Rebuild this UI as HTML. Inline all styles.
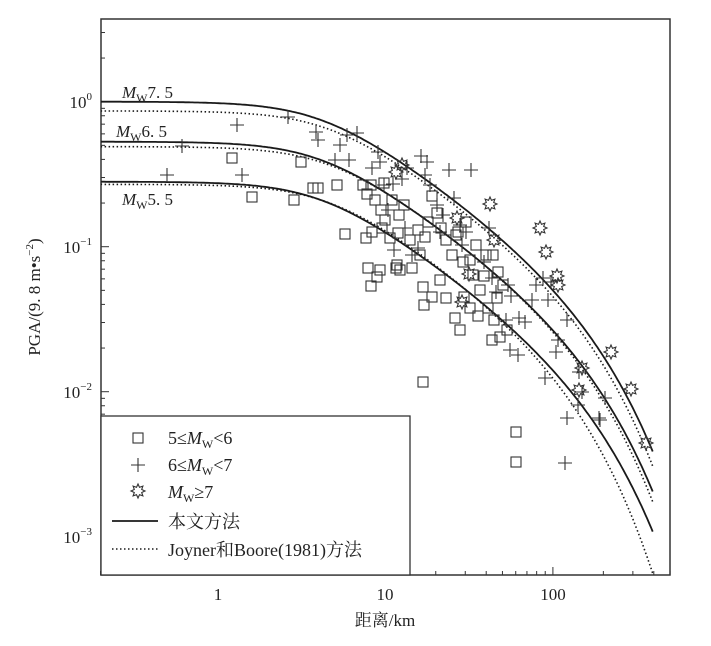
<!DOCTYPE html>
<html><head><meta charset="utf-8"><style>
html,body{margin:0;padding:0;background:#fff;}
svg{display:block;font-family:"Liberation Serif","Noto Serif CJK SC",serif;}
</style></head><body>
<svg id="s" width="711" height="646" viewBox="0 0 711 646" xmlns="http://www.w3.org/2000/svg">
<defs><clipPath id="cp"><rect x="101" y="19" width="569" height="556"/></clipPath></defs>
<rect x="101" y="19" width="569" height="556" fill="none" stroke="#333" stroke-width="1.5"/>
<g id="ticks" stroke="#333" stroke-width="1"></g>
<g id="curves" clip-path="url(#cp)" fill="none" stroke="#1a1a1a"></g>
<g id="pts" fill="none" stroke="#333" stroke-width="1.1"></g>
<g font-size="17" fill="#222">
<text x="122" y="98"><tspan font-style="italic">M</tspan><tspan font-size="12" dy="4">W</tspan><tspan dy="-4">7. 5</tspan></text>
<text x="116" y="137"><tspan font-style="italic">M</tspan><tspan font-size="12" dy="4">W</tspan><tspan dy="-4">6. 5</tspan></text>
<text x="122" y="205"><tspan font-style="italic">M</tspan><tspan font-size="12" dy="4">W</tspan><tspan dy="-4">5. 5</tspan></text>
</g>
<g font-size="17" fill="#222" text-anchor="end">
<text x="92" y="108">10<tspan font-size="11" dy="-8">0</tspan></text>
<text x="92" y="253">10<tspan font-size="11" dy="-8">−1</tspan></text>
<text x="92" y="398">10<tspan font-size="11" dy="-8">−2</tspan></text>
<text x="92" y="543">10<tspan font-size="11" dy="-8">−3</tspan></text>
</g>
<g font-size="17" fill="#222" text-anchor="middle">
<text x="218" y="600">1</text>
<text x="385" y="600">10</text>
<text x="553" y="600">100</text>
<text x="385" y="626">距离/km</text>
</g>
<text transform="translate(40,297) rotate(-90)" font-size="17" fill="#222" text-anchor="middle">PGA/(9. 8 m•s<tspan font-size="11" dy="-7">−2</tspan><tspan dy="7">)</tspan></text>
<rect x="101" y="416" width="309" height="159" fill="#fff" stroke="#333" stroke-width="1.3"/>
<g font-size="18" fill="#222">
<text x="168" y="444">5≤<tspan font-style="italic">M</tspan><tspan font-size="12" dy="4">W</tspan><tspan dy="-4">&lt;6</tspan></text>
<text x="168" y="471">6≤<tspan font-style="italic">M</tspan><tspan font-size="12" dy="4">W</tspan><tspan dy="-4">&lt;7</tspan></text>
<text x="168" y="498"><tspan font-style="italic">M</tspan><tspan font-size="12" dy="4">W</tspan><tspan dy="-4">≥7</tspan></text>
<text x="168" y="528">本文方法</text>
<text x="168" y="556">Joyner和Boore(1981)方法</text>
</g>
<line x1="112" y1="521" x2="158" y2="521" stroke="#1a1a1a" stroke-width="1.8"/>
<line x1="112" y1="549" x2="158" y2="549" stroke="#1a1a1a" stroke-width="1.6" stroke-dasharray="1.5 2.5"/>
<g id="leg" fill="none" stroke="#333" stroke-width="1.1"></g>
</svg>
<script>
const NS="http://www.w3.org/2000/svg";
function X(d){return 217.7+167.6*Math.log10(d);}
function Yv(v){return 101.7-145*Math.log10(v);}
function el(p,t,a){const e=document.createElementNS(NS,t);for(const k in a)e.setAttribute(k,a[k]);p.appendChild(e);return e;}
const tk=document.getElementById('ticks');
for(let e=-1;e<=2;e++)for(let m=1;m<10;m++){const d=m*Math.pow(10,e);if(d<0.2||d>500)continue;const x=X(d);const L=m==1?8:4;el(tk,'line',{x1:x,y1:575,x2:x,y2:575-L});}
for(let e=-4;e<=0;e++)for(let m=1;m<10;m++){const v=m*Math.pow(10,e);const y=Yv(v);if(y<19||y>575)continue;const L=m==1?8:4;el(tk,'line',{x1:101,y1:y,x2:101+L,y2:y});}
const cg=document.getElementById('curves');
function curve(off,h,a,c,dash){let p='';for(let i=0;i<=300;i++){const lg=Math.log10(0.2)+i/300*(Math.log10(394)-Math.log10(0.2));const d=Math.pow(10,lg);const r=Math.sqrt(d*d+h*h);const r0=Math.sqrt(0.04+h*h);const L=off-a*Math.log10(r/r0)-c*(r-r0);p+=(i?'L':'M')+X(d).toFixed(1)+' '+(101.7-145*L).toFixed(1);}
const at={d:p,'stroke-width':dash?1.6:1.8};if(dash)at['stroke-dasharray']='1.5 2.5';el(cg,'path',at);}
[0,-0.276,-0.552].forEach(o=>curve(o,4,0.78,0.0022,false));
curve(-0.064,4.5,0.78,0.0024,true);curve(-0.31,4.5,0.78,0.0024,true);curve(-0.57,4.5,0.78,0.003,true);
const pg=document.getElementById('pts');
function sq(g,x,y){el(g,'rect',{x:x-5,y:y-5,width:10,height:10});}
function cr(g,x,y){el(g,'path',{d:`M${x-7} ${y}H${x+7}M${x} ${y-7}V${y+7}`});}
function st(g,x,y){const r=7,r2=4;let p='';for(let i=0;i<16;i++){const a=i*Math.PI/8-Math.PI/2;const rr=i%2?r2:r;p+=(i?'L':'M')+(x+rr*Math.cos(a)).toFixed(1)+' '+(y+rr*Math.sin(a)).toFixed(1);}el(g,'path',{d:p+'Z'});}
const S=[[232,158],[252,197],[294,200],[301,162],[313,188],[318,188],[337,185],[345,234],[363,185],[371,185],[384,183],[367,194],[375,200],[381,210],[385,220],[392,200],[399,215],[404,205],[382,228],[390,238],[398,233],[366,238],[372,232],[396,268],[380,270],[400,270],[410,240],[418,230],[428,222],[420,255],[412,268],[425,237],[432,196],[437,213],[441,228],[446,240],[423,287],[424,305],[432,297],[440,280],[446,298],[458,232],[466,222],[463,262],[470,260],[473,275],[480,290],[484,276],[464,297],[470,308],[460,330],[455,318],[478,316],[488,308],[494,320],[497,298],[500,337],[492,340],[507,330],[456,235],[452,255],[476,245],[486,255],[493,255],[498,272],[503,285],[423,382],[516,432],[516,462],[397,265],[368,268],[377,277],[371,286]];
const C=[[167,175],[237,125],[242,175],[182,146],[288,117],[316,132],[318,140],[340,145],[347,135],[357,133],[335,160],[349,160],[372,168],[378,152],[380,162],[384,185],[393,184],[402,179],[407,168],[421,156],[427,162],[425,175],[449,170],[471,170],[430,185],[437,205],[443,215],[440,232],[454,198],[460,225],[466,232],[388,210],[405,228],[394,250],[412,255],[418,248],[462,245],[489,228],[484,262],[492,278],[496,292],[508,285],[511,296],[519,318],[525,322],[506,320],[510,350],[518,355],[543,278],[551,282],[548,300],[567,320],[558,340],[545,378],[556,352],[532,300],[536,285],[579,372],[582,392],[578,405],[567,418],[599,418],[605,398],[600,420],[565,463]];
const T=[[402,165],[396,172],[457,218],[490,204],[494,240],[469,274],[540,228],[546,252],[557,276],[558,285],[582,368],[579,390],[611,352],[631,389],[646,443],[462,302]];
S.forEach(p=>sq(pg,p[0],p[1]));C.forEach(p=>cr(pg,p[0],p[1]));T.forEach(p=>st(pg,p[0],p[1]));
const lg=document.getElementById('leg');sq(lg,138,438);cr(lg,138,465);st(lg,138,491);
</script>
</body></html>
